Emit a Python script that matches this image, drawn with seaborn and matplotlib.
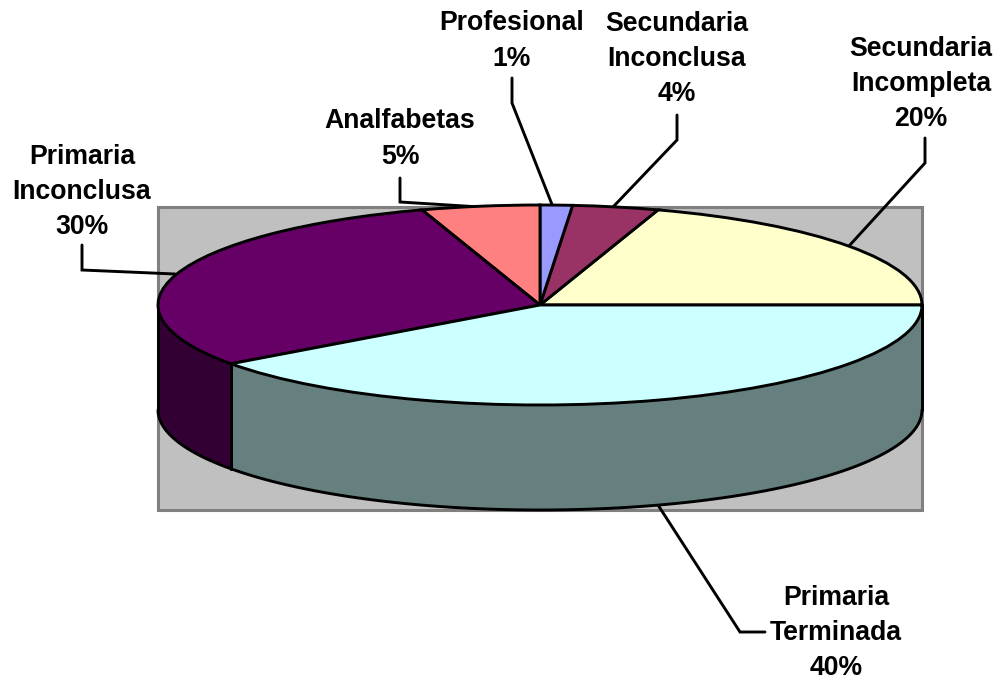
import numpy as np
import matplotlib
import matplotlib.pyplot as plt
import seaborn as sns

matplotlib.use('Agg')

# Data, counter-clockwise from the east side of the pie
values = [20, 3.64, 1.36, 5, 30, 40]
percent_labels = ["20%", "4%", "1%", "5%", "30%", "40%"]
names = ["Secundaria\nIncompleta", "Secundaria\nInconclusa", "Profesional",
         "Analfabetas", "Primaria\nInconclusa", "Primaria\nTerminada"]
top_colors = ["#FFFFCC", "#993366", "#9999FF", "#FF8080", "#660066", "#CCFFFF"]
side_colors = ["#808066", "#4D1A33", "#4D4D80", "#804040", "#330033", "#668080"]

W, H = 1006, 684
LABEL_SIZE = 19.2
LINE_W = 2.1

sns.set_theme(style="white")
plt.rcParams['font.family'] = ['Liberation Sans', 'DejaVu Sans']
plt.rcParams['font.weight'] = 'bold'

fig = plt.figure(figsize=(W / 100, H / 100), dpi=100, facecolor="white")

# Background axes in pixel coordinates, for the grey plot area, leaders and labels
bg = fig.add_axes([0, 0, 1, 1])
bg.set_xlim(0, W)
bg.set_ylim(H, 0)
bg.axis("off")
bg.add_patch(plt.Rectangle((158, 207), 764, 303, facecolor="#C0C0C0",
                           edgecolor="#808080", linewidth=2.2))

# Pie axes stretched so that the circle becomes the flat ellipse
cx, cy, rx, ry, depth = 540, 305, 382, 100, 105
ax = fig.add_axes([(cx - rx) / W, 1 - (cy + ry) / H, 2 * rx / W, 2 * ry / H])
ax.patch.set_alpha(0)
wedges, _ = ax.pie(values, colors=top_colors, startangle=0, counterclock=True, radius=1,
                   wedgeprops=dict(edgecolor="black", linewidth=LINE_W, zorder=5))
ax.set_aspect("auto")
ax.set_xlim(-1, 1)
ax.set_ylim(-1, 1)
for w in wedges:
    w.set_clip_on(False)

# Side wall: only the front half of the rim is visible
drop = depth / ry
edges = np.cumsum([0] + values) / sum(values) * 360
for start, end, color in zip(edges[:-1], edges[1:], side_colors):
    lo, hi = max(start, 180), min(end, 360)
    if hi <= lo:
        continue
    t = np.radians(np.linspace(lo, hi, 120))
    ax.fill_between(np.cos(t), np.sin(t), np.sin(t) - drop, facecolor=color,
                    edgecolor="none", clip_on=False, zorder=2)
    ax.plot(np.cos(t), np.sin(t) - drop, color="black", lw=LINE_W, clip_on=False, zorder=3)
    for a in (lo, hi):
        x = np.cos(np.radians(a))
        y = np.sin(np.radians(a))
        ax.plot([x, x], [y, y - drop], color="black", lw=LINE_W, clip_on=False, zorder=3)

# Leader lines in pixels
leaders = [
    [(849, 246), (925, 163), (925, 138)],
    [(613, 207), (677, 140), (677, 115)],
    [(553, 207), (512, 103), (512, 78)],
    [(480, 207), (400, 202), (400, 178)],
    [(175, 274), (82, 270), (82, 245)],
    [(658, 505), (740, 632), (765, 632)],
]
for pts in leaders:
    xs, ys = zip(*pts)
    bg.plot(xs, ys, color="black", lw=LINE_W, zorder=4, solid_joinstyle="miter")

label_pos = [(921, 84), (677, 59), (512, 41), (400, 139), (82, 192), (836, 633)]
for name, pct, (x, y) in zip(names, percent_labels, label_pos):
    fig.text(x / W, 1 - y / H, f"{name}\n{pct}", ha="center", va="center",
             fontsize=LABEL_SIZE, fontweight="bold", color="black", linespacing=1.45)

fig.savefig("out.png", dpi=100)
plt.close(fig)
